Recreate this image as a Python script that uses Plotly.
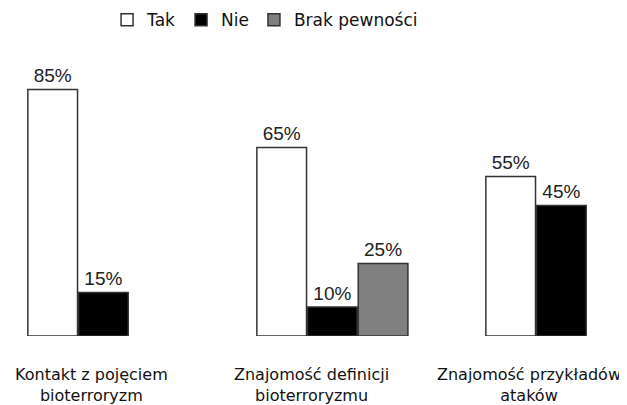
import plotly.graph_objects as go

categories = ["Kontakt z pojęciem<br>bioterroryzm",
              "Znajomość definicji<br>bioterroryzmu",
              "Znajomość przykładów<br>ataków"]
cat_keys = ["A", "B", "C"]
tak = [85, 65, 55]
nie = [15, 10, 45]
brak = [None, 25, None]
series_names = ["Tak", "Nie", "Brak pewności"]
series_colors = ["#ffffff", "#000000", "#808080"]

fig = go.Figure()
for name, vals, col in zip(series_names, [tak, nie, brak], series_colors):
    fig.add_trace(go.Bar(
        x=cat_keys, y=vals, name=name,
        marker=dict(color=col, line=dict(color="#333333", width=1.5)),
        text=[None if v is None else f"{v}%" for v in vals],
        textposition="outside", cliponaxis=False,
        textfont=dict(family="Liberation Sans", size=19, color="#222222"),
    ))

label_x = [0.1324, 0.4833, 0.831]
for lx, lab in zip(label_x, categories):
    fig.add_annotation(x=lx, y=-0.097, xref="paper", yref="paper",
                       text=lab, showarrow=False, yanchor="top", xanchor="center",
                       font=dict(family="DejaVu Sans", size=16, color="#111111"))

fig.update_layout(
    width=627, height=405,
    margin=dict(l=0, r=0, t=53, b=77),
    paper_bgcolor="white", plot_bgcolor="white",
    barmode="group", bargap=0.336, bargroupgap=0.02,
    showlegend=True,
    legend=dict(orientation="h", x=0.158, xanchor="left", yref="container",
                y=0.97, yanchor="middle",
                font=dict(family="DejaVu Sans", size=17, color="#111111"),
                itemwidth=30),
    xaxis=dict(range=[-0.4165, 2.3215], showticklabels=False, showgrid=False,
               zeroline=False, showline=False, ticks=""),
    yaxis=dict(range=[0, 94.8], visible=False, showgrid=False, zeroline=False),
)

fig.write_html("out.html")
